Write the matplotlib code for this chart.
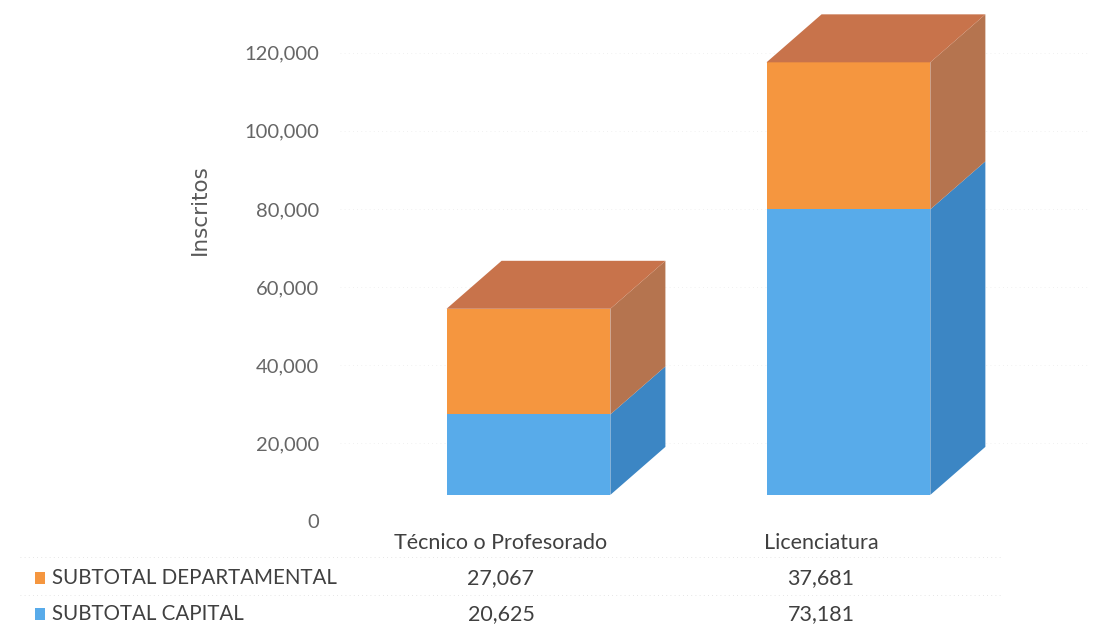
import numpy as np
import matplotlib.pyplot as plt
from matplotlib.patches import Polygon, Rectangle
from matplotlib.transforms import blended_transform_factory

# data
categorias = ["Técnico o Profesorado", "Licenciatura"]
series = ["SUBTOTAL DEPARTAMENTAL", "SUBTOTAL CAPITAL"]
departamental = [27067, 37681]
capital = [20625, 73181]
yticks = [0, 20000, 40000, 60000, 80000, 100000, 120000]

# colours: (front, side, top)
c_orange = ("#F5963F", "#B5744F", "#C8734B")
c_blue = ("#58ABEA", "#3C86C4", "#4A98D6")
fuente = "Lato"

fig = plt.figure(figsize=(10.97, 6.3), dpi=100)
W, H = 1097, 630
# axes placed so that 0 sits at y=521px and 120,000 at y=53px
ax = fig.add_axes([340 / W, (H - 521) / H, 750 / W, 515 / H])
ax.set_ylim(0, 132000)
ax.set_xlim(-0.503, 1.841)
for s in ax.spines.values():
    s.set_visible(False)
ax.set_xticks([])
ax.set_yticks(yticks)
ax.set_yticklabels([f"{v:,}" for v in yticks], family=fuente,
                   fontsize=14.5, color="#666666")
ax.tick_params(axis="y", length=0, pad=15)
ax.set_ylabel("Inscritos", family="DejaVu Sans", fontsize=15.5, color="#595959")
ax.yaxis.set_label_coords((210 - 340) / 750, (521 - 210) / 515)

# pseudo 3D geometry (excel style)
shift, width = 0.086, 0.512
dx, dy = 0.172, 12300
floor = 6700


def box(x0, y0, y1, cols, top):
    x1 = x0 + width
    ax.add_patch(Polygon([(x0, y0), (x1, y0), (x1, y1), (x0, y1)],
                         closed=True, fc=cols[0], ec="none", zorder=3))
    ax.add_patch(Polygon([(x1, y0), (x1 + dx, y0 + dy), (x1 + dx, y1 + dy), (x1, y1)],
                         closed=True, fc=cols[1], ec="none", zorder=3))
    if top:
        ax.add_patch(Polygon([(x0, y1), (x1, y1), (x1 + dx, y1 + dy), (x0 + dx, y1 + dy)],
                             closed=True, fc=cols[2], ec="none", zorder=3))


for i in range(len(categorias)):
    x0 = i + shift - width / 2
    b0 = floor
    b1 = b0 + capital[i]
    b2 = b1 + departamental[i]
    box(x0, b0, b1, c_blue, False)
    box(x0, b1, b2, c_orange, True)

# faint gridlines on the back wall
for v in yticks[1:]:
    ax.axhline(v, color="#ececec", lw=0.6, ls=(0, (1, 4)), zorder=1)

# data table below
tr = blended_transform_factory(ax.transData, fig.transFigure)
row_y = [(H - 578) / H, (H - 614) / H]
for i, cat in enumerate(categorias):
    ax.text(i, (H - 543) / H, cat, transform=tr, ha="center", va="center",
            family=fuente, fontsize=15.5, color="#404040")
    ax.text(i, row_y[0], f"{departamental[i]:,}", transform=tr, ha="center", va="center",
            family=fuente, fontsize=15.5, color="#404040")
    ax.text(i, row_y[1], f"{capital[i]:,}", transform=tr, ha="center", va="center",
            family=fuente, fontsize=15.5, color="#404040")

for lbl, col, yy in zip(series, [c_orange[0], c_blue[0]], row_y):
    fig.patches.append(Rectangle((35 / W, yy - 6 / H), 10 / W, 12 / H,
                                 transform=fig.transFigure, fc=col, ec="none"))
    fig.text(52 / W, yy, lbl, ha="left", va="center",
             family=fuente, fontsize=14.8, color="#404040")

for yy in [557, 595]:
    fig.add_artist(plt.Line2D([20 / W, 1000 / W], [(H - yy) / H] * 2, color="#dddddd",
                              lw=0.6, ls=(0, (1, 4))))

fig.savefig("out.png", dpi=100, facecolor="white")
